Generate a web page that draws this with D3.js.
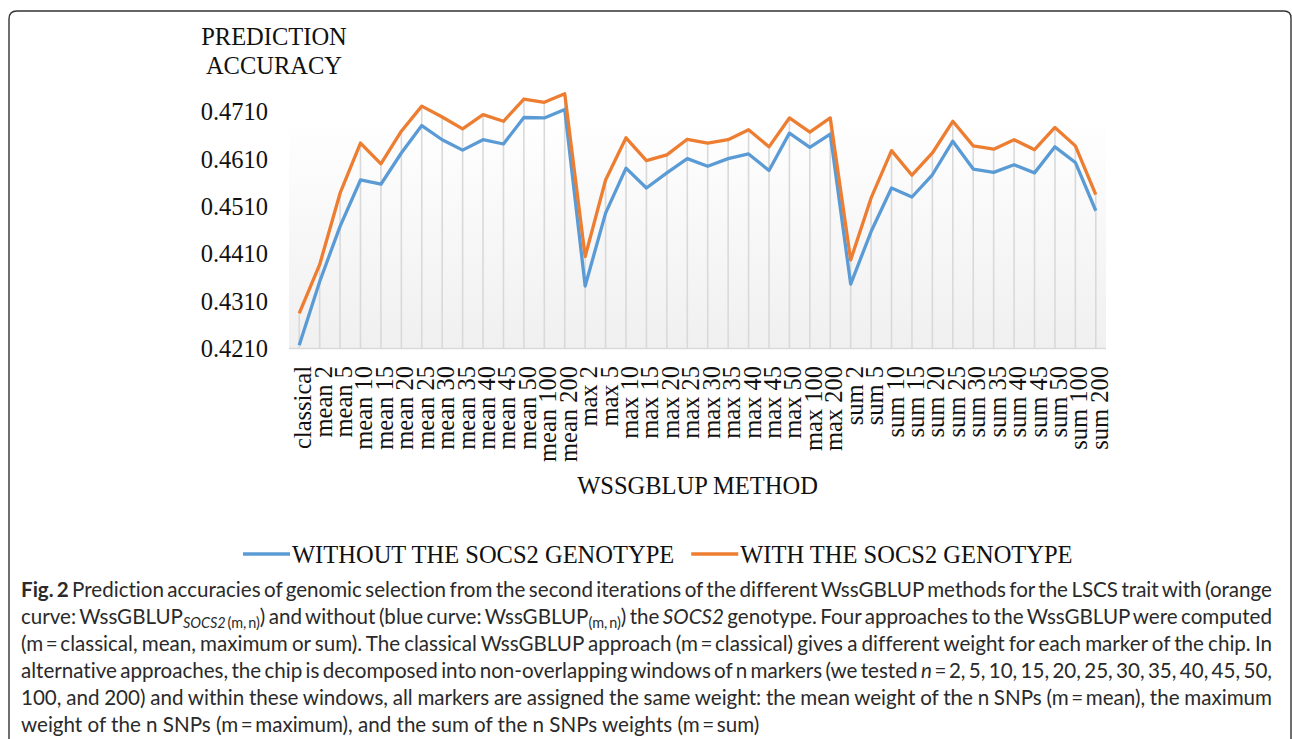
<!DOCTYPE html>
<html>
<head>
<meta charset="utf-8">
<script src="https://cdn.jsdelivr.net/npm/d3@7"></script>
<style>
  body { margin: 0; background: #fff; }
  svg { display: block; }
  .serif { font-family: "Liberation Serif", "Times New Roman", serif; fill: #111; }
  .cap { font-family: Lato, "Open Sans", sans-serif; fill: #2a2a2a; font-variant-ligatures: none; }
</style>
</head>
<body>
<svg id="svg1"></svg>
<script>
// categories on the x axis
var categories = ["classical",
  "mean 2", "mean 5", "mean 10", "mean 15", "mean 20", "mean 25", "mean 30",
  "mean 35", "mean 40", "mean 45", "mean 50", "mean 100", "mean 200",
  "max 2", "max 5", "max 10", "max 15", "max 20", "max 25", "max 30",
  "max 35", "max 40", "max 45", "max 50", "max 100", "max 200",
  "sum 2", "sum 5", "sum 10", "sum 15", "sum 20", "sum 25", "sum 30",
  "sum 35", "sum 40", "sum 45", "sum 50", "sum 100", "sum 200"];

// prediction accuracy
var withoutSocs2 = [0.4216,
  0.4350, 0.4467, 0.4565, 0.4556, 0.4622, 0.4680, 0.4650,
  0.4628, 0.4650, 0.4641, 0.4697, 0.4696, 0.4714,
  0.4341, 0.4495, 0.4590, 0.4548, 0.4580, 0.4610, 0.4594,
  0.4610, 0.4620, 0.4585, 0.4664, 0.4634, 0.4662,
  0.4345, 0.4456, 0.4548, 0.4529, 0.4576, 0.4647, 0.4588,
  0.4581, 0.4597, 0.4580, 0.4635, 0.4602, 0.4500];

var withSocs2 = [0.4283,
  0.4386, 0.4537, 0.4643, 0.4599, 0.4668, 0.4721, 0.4698,
  0.4673, 0.4703, 0.4689, 0.4736, 0.4729, 0.4747,
  0.4403, 0.4565, 0.4654, 0.4606, 0.4618, 0.4651, 0.4643,
  0.4650, 0.4671, 0.4635, 0.4696, 0.4666, 0.4696,
  0.4396, 0.4527, 0.4627, 0.4575, 0.4622, 0.4689, 0.4637,
  0.4630, 0.4650, 0.4629, 0.4676, 0.4637, 0.4534];

var yTicks = [0.4210, 0.4310, 0.4410, 0.4510, 0.4610, 0.4710];
var yDomain = [0.4210, 0.4810];

var seriesNames = ["WITHOUT THE SOCS2 GENOTYPE", "WITH THE SOCS2 GENOTYPE"];
var seriesColors = ["#5b9bd5", "#ed7d31"];

var W = 1292, H = 739;
var plot = { left: 289, right: 1106, top: 64, bottom: 348 };

var svg = d3.select('#svg1')
  .attr('width', W)
  .attr('height', H);

// frame of the figure panel
svg.append('path')
  .attr('d', 'M9,745 V19 Q9,11 17,11 H1284 Q1291,11 1291,18 V745')
  .attr('fill', 'none')
  .attr('stroke', '#333')
  .attr('stroke-width', 1.4);

var x = d3.scaleBand()
  .domain(categories)
  .range([plot.left, plot.right])
  .padding(0);
var y = d3.scaleLinear()
  .domain(yDomain)
  .range([plot.bottom, plot.top]);

function cx(d) { return x(d) + x.bandwidth() / 2; }

// plot area background
var grad = svg.append('defs').append('linearGradient')
  .attr('id', 'bg')
  .attr('x1', 0).attr('y1', 0).attr('x2', 0).attr('y2', 1);
grad.append('stop').attr('offset', '0%').attr('stop-color', '#ffffff');
grad.append('stop').attr('offset', '18%').attr('stop-color', '#ffffff');
grad.append('stop').attr('offset', '100%').attr('stop-color', '#f0f0f0');

svg.append('rect')
  .attr('x', plot.left)
  .attr('y', plot.top)
  .attr('width', plot.right - plot.left)
  .attr('height', plot.bottom - plot.top)
  .attr('fill', 'url(#bg)');

// drop lines from the highest point down to the axis
svg.append('g').selectAll('line')
  .data(categories)
  .enter()
  .append('line')
  .attr('x1', function(d) { return cx(d); })
  .attr('x2', function(d) { return cx(d); })
  .attr('y1', function(d, i) { return y(Math.max(withSocs2[i], withoutSocs2[i])); })
  .attr('y2', y(yDomain[0]))
  .attr('stroke', '#d9d9d9')
  .attr('stroke-width', 1.6);

// category axis line
svg.append('line')
  .attr('x1', plot.left).attr('x2', plot.right)
  .attr('y1', y(yDomain[0]) + 0.5).attr('y2', y(yDomain[0]) + 0.5)
  .attr('stroke', '#d9d9d9')
  .attr('stroke-width', 1.5);

// lines
var line = d3.line()
  .x(function(d, i) { return cx(categories[i]); })
  .y(function(d) { return y(d); });

[withoutSocs2, withSocs2].forEach(function(s, k) {
  svg.append('path')
    .datum(s)
    .attr('d', line)
    .attr('fill', 'none')
    .attr('stroke', seriesColors[k])
    .attr('stroke-width', 3.3)
    .attr('stroke-linejoin', 'round');
});

// y axis labels
var yAxis = svg.append('g')
  .attr('transform', 'translate(' + (plot.left - 21) + ',0)')
  .call(d3.axisLeft(y).tickValues(yTicks).tickSize(0).tickPadding(0)
    .tickFormat(d3.format('.4f')));
yAxis.select('.domain').remove();
yAxis.selectAll('text')
  .attr('class', 'serif')
  .attr('font-size', '24.5px')
  .attr('dy', '0.34em');

// x axis labels, rotated
var xAxis = svg.append('g')
  .attr('transform', 'translate(0,' + (plot.bottom + 18) + ')')
  .call(d3.axisBottom(x).tickSize(0).tickPadding(0));
xAxis.select('.domain').remove();
xAxis.selectAll('text')
  .attr('class', 'serif')
  .attr('font-size', '24.5px')
  .attr('text-anchor', 'end')
  .attr('y', 0)
  .attr('dy', 0)
  .attr('transform', 'translate(12,0) rotate(-90)');

// axis titles
svg.append('text')
  .attr('class', 'serif')
  .attr('font-size', '24.5px')
  .attr('text-anchor', 'middle')
  .attr('x', 274).attr('y', 45)
  .text('PREDICTION');
svg.append('text')
  .attr('class', 'serif')
  .attr('font-size', '24.5px')
  .attr('text-anchor', 'middle')
  .attr('x', 274).attr('y', 73.5)
  .text('ACCURACY');
svg.append('text')
  .attr('class', 'serif')
  .attr('font-size', '24.5px')
  .attr('text-anchor', 'middle')
  .attr('x', (plot.left + plot.right) / 2).attr('y', 494)
  .text('WSSGBLUP METHOD');

// legend
var lx = 243;
seriesNames.forEach(function(name, k) {
  svg.append('line')
    .attr('x1', lx).attr('x2', lx + 47)
    .attr('y1', 554).attr('y2', 554)
    .attr('stroke', seriesColors[k])
    .attr('stroke-width', 3.3);
  var t = svg.append('text')
    .attr('class', 'serif')
    .attr('font-size', '24.5px')
    .attr('x', lx + 49).attr('y', 563)
    .text(name);
  lx = lx + 49 + t.node().getComputedTextLength() + 17;
});

// caption
var caption = [
  [{t: 'Fig. 2', b: true}, {t: ' Prediction accuracies of genomic selection from the second iterations of the different WssGBLUP methods for the LSCS trait with (orange'}],
  [{t: 'curve: WssGBLUP'}, {t: 'SOCS2', sub: true, i: true}, {t: ' (m, n)', sub: true}, {t: ') and without (blue curve: WssGBLUP'}, {t: '(m, n)', sub: true}, {t: ') the '}, {t: 'SOCS2', i: true}, {t: ' genotype. Four approaches to the WssGBLUP were computed'}],
  [{t: '(m\u2009=\u2009classical, mean, maximum or sum). The classical WssGBLUP approach (m\u2009=\u2009classical) gives a different weight for each marker of the chip. In'}],
  [{t: 'alternative approaches, the chip is decomposed into non-overlapping windows of n markers (we tested '}, {t: 'n', i: true}, {t: '\u2009=\u20092, 5, 10, 15, 20, 25, 30, 35, 40, 45, 50,'}],
  [{t: '100, and 200) and within these windows, all markers are assigned the same weight: the mean weight of the n SNPs (m\u2009=\u2009mean), the maximum'}],
  [{t: 'weight of the n SNPs (m\u2009=\u2009maximum), and the sum of the n SNPs weights (m\u2009=\u2009sum)'}]
];

var capX = 21, capRight = 1272, lastRight = 760;
var capNodes = caption.map(function(parts, li) {
  var t = svg.append('text')
    .attr('class', 'cap')
    .attr('x', capX)
    .attr('y', 597 + li * 27);
  var wasSub = false;
  parts.forEach(function(p) {
    var sp = t.append('tspan').text(p.t);
    if (p.b) sp.attr('font-weight', 'bold');
    if (p.i) sp.attr('font-style', 'italic');
    if (p.sub && !wasSub) sp.attr('dy', 4);
    if (!p.sub && wasSub) sp.attr('dy', -4);
    if (p.sub) sp.attr('font-size', '0.7em');
    wasSub = !!p.sub;
  });
  return t;
});

// fit font size on the last (unjustified) line, then justify the others
capNodes.forEach(function(t) { t.attr('font-size', '16px'); });
var w6 = capNodes[5].node().getComputedTextLength();
var fs = 16 * (lastRight - capX) / w6;
capNodes.forEach(function(t) { t.attr('font-size', fs + 'px'); });
capNodes.forEach(function(t, li) {
  if (li === 5) return;
  var natural = t.node().getComputedTextLength();
  var spaces = t.text().split(' ').length - 1;
  t.style('word-spacing', ((capRight - capX - natural) / spaces) + 'px');
});
</script>
</body>
</html>
